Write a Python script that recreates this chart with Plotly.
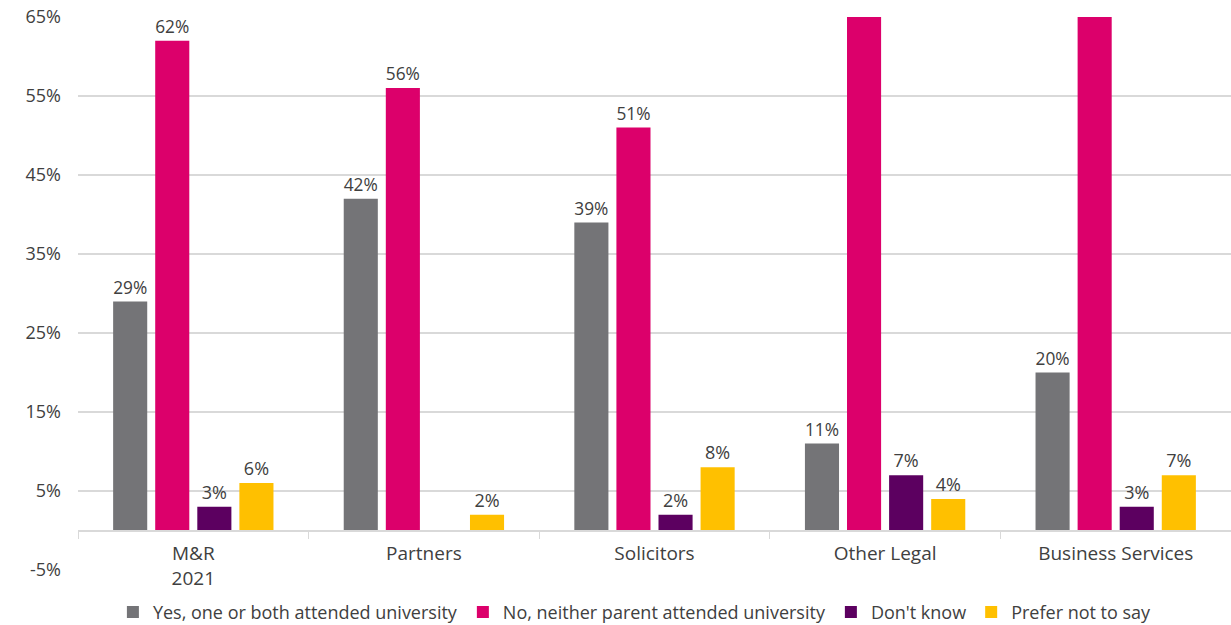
import plotly.graph_objects as go

categories = ["M&R<br>2021", "Partners", "Solicitors", "Other Legal", "Business Services"]
series_names = ["Yes, one or both attended university", "No, neither parent attended university",
                "Don't know", "Prefer not to say"]
yes_vals = [29, 42, 39, 11, 20]
no_vals = [62, 56, 51, 77, 73]
dont_know_vals = [3, None, 2, 7, 3]
prefer_not_vals = [6, 2, 8, 4, 7]
colors = ["#747477", "#DC006B", "#5C0060", "#FFC000"]
y_ticks = [-5, 5, 15, 25, 35, 45, 55, 65]
y_tick_text = ["-5%", "5%", "15%", "25%", "35%", "45%", "55%", "65%"]

Y_MIN, Y_MAX = -5, 65

fig = go.Figure()
for name, vals, col in zip(series_names, [yes_vals, no_vals, dont_know_vals, prefer_not_vals], colors):
    txt = [("" if (v is None or v > Y_MAX) else f"{v}%") for v in vals]
    fig.add_trace(go.Bar(
        x=categories, y=vals, name=name, marker=dict(color=col, line=dict(width=0)),
        text=txt, textposition="outside", textfont=dict(size=18, color="#404040"),
        cliponaxis=True, hoverinfo="skip",
    ))

fig.update_layout(
    width=1231, height=625,
    margin=dict(l=78, r=0, t=17, b=55, autoexpand=False),
    paper_bgcolor="white", plot_bgcolor="white",
    font=dict(family="Open Sans", size=18, color="#404040"),
    barmode="group", bargap=0.27, bargroupgap=0.19,
    showlegend=True,
    legend=dict(orientation="h", x=0.483, xanchor="center", y=-0.043, yanchor="top",
                font=dict(size=18, color="#404040"), traceorder="normal",
                itemwidth=30, tracegroupgap=0),
    xaxis=dict(
        anchor="free", position=(0 - Y_MIN) / (Y_MAX - Y_MIN), automargin=False,
        showline=True, linecolor="#D9D9D9", linewidth=1.5,
        ticks="outside", tickson="boundaries", ticklen=8, tickcolor="#D9D9D9",
        showgrid=False, tickfont=dict(size=19, color="#404040"), ticklabelstandoff=6,
    ),
    yaxis=dict(
        range=[Y_MIN, Y_MAX], tickvals=y_ticks, ticktext=y_tick_text, automargin=False,
        showgrid=True, gridcolor="#D9D9D9", gridwidth=1.5,
        zeroline=False, showline=False, ticks="",
        tickfont=dict(size=18, color="#404040"), ticklabelstandoff=16,
    ),
)

fig.write_html("out.html", config={"displayModeBar": False},
               post_script="document.body.style.margin='0px';")
